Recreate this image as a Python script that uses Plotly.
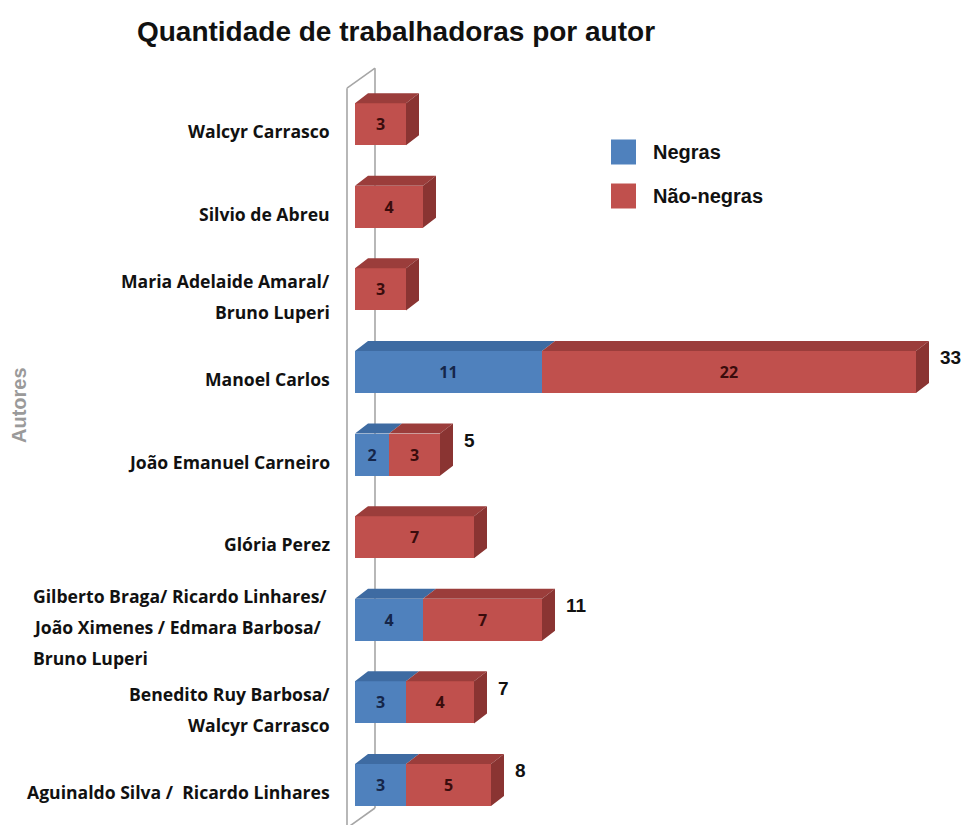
import plotly.graph_objects as go

# ---- data ----
autores = [
    "Aguinaldo Silva /  Ricardo Linhares",
    "Benedito Ruy Barbosa/\nWalcyr Carrasco",
    "Gilberto Braga/ Ricardo Linhares/\nJoão Ximenes / Edmara Barbosa/\nBruno Luperi",
    "Glória Perez",
    "João Emanuel Carneiro",
    "Manoel Carlos",
    "Maria Adelaide Amaral/\nBruno Luperi",
    "Silvio de Abreu",
    "Walcyr Carrasco",
]
negras = [3, 3, 4, 0, 2, 11, 0, 0, 0]
nao_negras = [5, 4, 7, 7, 3, 22, 3, 4, 3]
series_names = ["Negras", "Não-negras"]

# ---- styling (page pixel coordinates; page has an 8px body margin) ----
OFF = 8
PAGE_W, PAGE_H = 969, 827
W, H = PAGE_W - OFF, PAGE_H - OFF
PL, PR, PT, PB = 345, 965, 60, 825       # plot area in page pixels
ML, MR, MT, MB = PL - OFF, (OFF + W) - PR, PT - OFF, (OFF + H) - PB
X0_PAGE, Y0_PAGE = 355, 785              # page position of value 0 / first category
PX_X = 17.0
PX_Y = 82.6
DX = 13 / PX_X
DY = 10 / PX_Y
BW = 0.51
front = ["#4F81BD", "#C0504D"]
topc = ["#3E6BA2", "#9B3D3B"]
sidec = ["#33598A", "#8A3432"]
txtc = ["#15264A", "#3A0C0C"]
FONT_LAB = "Open Sans"
FONT_ARIAL = "Liberation Sans"

pw, ph = PR - PL, PB - PT
xmin = -(X0_PAGE - PL) / PX_X
xmax = xmin + pw / PX_X
ymin = -(PB - Y0_PAGE) / PX_Y
ymax = ymin + ph / PX_Y

def paper(x, y):
    return (x - PL) / pw, (PB - y) / ph

idx = list(range(len(autores)))
series = [negras, nao_negras]

fig = go.Figure()

# 3D top faces
for s in range(2):
    xs, ys = [], []
    for i in idx:
        base = sum(series[k][i] for k in range(s))
        v = series[s][i]
        if v <= 0:
            continue
        x0, x1 = base, base + v
        yt = i + BW / 2
        xs += [x0, x1, x1 + DX, x0 + DX, x0, None]
        ys += [yt, yt, yt + DY, yt + DY, yt, None]
    fig.add_trace(go.Scatter(x=xs, y=ys, fill="toself", mode="lines",
                             line=dict(width=0), fillcolor=topc[s],
                             hoverinfo="skip", showlegend=False))
# 3D side faces
for s in range(2):
    xs, ys = [], []
    for i in idx:
        total = negras[i] + nao_negras[i]
        last = 1 if nao_negras[i] > 0 else 0
        if last != s or total <= 0:
            continue
        yt, yb = i + BW / 2, i - BW / 2
        xs += [total, total + DX, total + DX, total, total, None]
        ys += [yb, yb + DY, yt + DY, yt, yb, None]
    fig.add_trace(go.Scatter(x=xs, y=ys, fill="toself", mode="lines",
                             line=dict(width=0), fillcolor=sidec[s],
                             hoverinfo="skip", showlegend=False))

# front faces
for s in range(2):
    fig.add_trace(go.Bar(
        y=idx, x=series[s], orientation="h", name=series_names[s],
        marker=dict(color=front[s], line=dict(width=0)), width=BW,
        text=[str(v) if v > 0 else "" for v in series[s]],
        textposition="inside", insidetextanchor="middle", textangle=0,
        textfont=dict(family=FONT_LAB, size=16, color=txtc[s], weight="bold"),
        hoverinfo="skip", showlegend=False))

annotations = []
# totals (only for mixed bars)
for i in idx:
    if negras[i] > 0 and nao_negras[i] > 0:
        t = negras[i] + nao_negras[i]
        annotations.append(dict(x=t + DX + 0.55, y=i + 0.17, text=str(t),
                                xref="x", yref="y", xanchor="left", yanchor="middle",
                                showarrow=False,
                                font=dict(family=FONT_ARIAL, size=19, color="#111", weight="bold")))

# category labels (one annotation per line for wide line spacing)
right_px, left_px = 332, 31
for i in idx:
    lines = autores[i].split("\n")
    n = len(lines)
    left_align = (n == 3)
    for k, ln in enumerate(lines):
        shift = -((k - (n - 1) / 2) * 31) - 7
        if left_align:
            xp, xa = paper(left_px, 0)[0], "left"
        else:
            xp, xa = paper(right_px, 0)[0], "right"
        annotations.append(dict(x=xp, y=i, xref="paper", yref="y", text=ln,
                                xanchor=xa, yanchor="middle", yshift=shift,
                                showarrow=False,
                                font=dict(family=FONT_LAB, size=17.6, color="#111", weight="bold")))

# axis title
ax, ay = paper(19, 405)
annotations.append(dict(x=ax, y=ay, xref="paper", yref="paper", text="Autores", textangle=-90,
                        showarrow=False, xanchor="center", yanchor="middle",
                        font=dict(family=FONT_ARIAL, size=20, color="#9a9a9a", weight="bold")))

# manual legend
shapes = []
for s, yc in enumerate([152, 196]):
    x0, y0 = paper(611, yc - 12.5)
    x1, y1 = paper(636, yc + 12.5)
    shapes.append(dict(type="rect", xref="paper", yref="paper", x0=x0, x1=x1, y0=y1, y1=y0,
                       fillcolor=front[s], line=dict(width=0)))
    tx, ty = paper(651, yc)
    annotations.append(dict(x=tx, y=ty, xref="paper", yref="paper", text=series_names[s],
                            xanchor="left", yanchor="middle", showarrow=False,
                            font=dict(family=FONT_ARIAL, size=20, color="#111", weight="bold")))

# back wall
wl, wr = (347 - X0_PAGE) / PX_X, (375 - X0_PAGE) / PX_X
wtl, wtr = 8 + (124 - 88) / PX_Y, 8 + (124 - 68) / PX_Y
wbr = (Y0_PAGE - 808) / PX_Y
wbl = wbr - (wtr - wtl)
wall = dict(color="#A6A6A6", width=1.6)
shapes += [
    dict(type="line", xref="x", yref="y", x0=wl, x1=wl, y0=ymin - 1, y1=wtl, line=wall, layer="below"),
    dict(type="line", xref="x", yref="y", x0=wl, x1=wr, y0=wtl, y1=wtr, line=wall, layer="below"),
    dict(type="line", xref="x", yref="y", x0=wr, x1=wr, y0=wtr, y1=wbr, line=wall, layer="below"),
    dict(type="line", xref="x", yref="y", x0=wr, x1=wl, y0=wbr, y1=wbl, line=wall, layer="below"),
]

fig.update_layout(
    width=W, height=H, margin=dict(l=ML, r=MR, t=MT, b=MB, autoexpand=False),
    paper_bgcolor="white", plot_bgcolor="white",
    barmode="stack", bargap=0,
    title=dict(text="Quantidade de trabalhadoras por autor", xref="container", yref="container",
               x=(396 - OFF) / W, y=1 - (31 - OFF) / H, xanchor="center", yanchor="middle",
               font=dict(family=FONT_ARIAL, size=28, color="#111", weight="bold")),
    xaxis=dict(range=[xmin, xmax], visible=False, fixedrange=True),
    yaxis=dict(range=[ymin, ymax], visible=False, fixedrange=True),
    annotations=annotations, shapes=shapes, showlegend=False,
)

fig.write_html("out.html")
